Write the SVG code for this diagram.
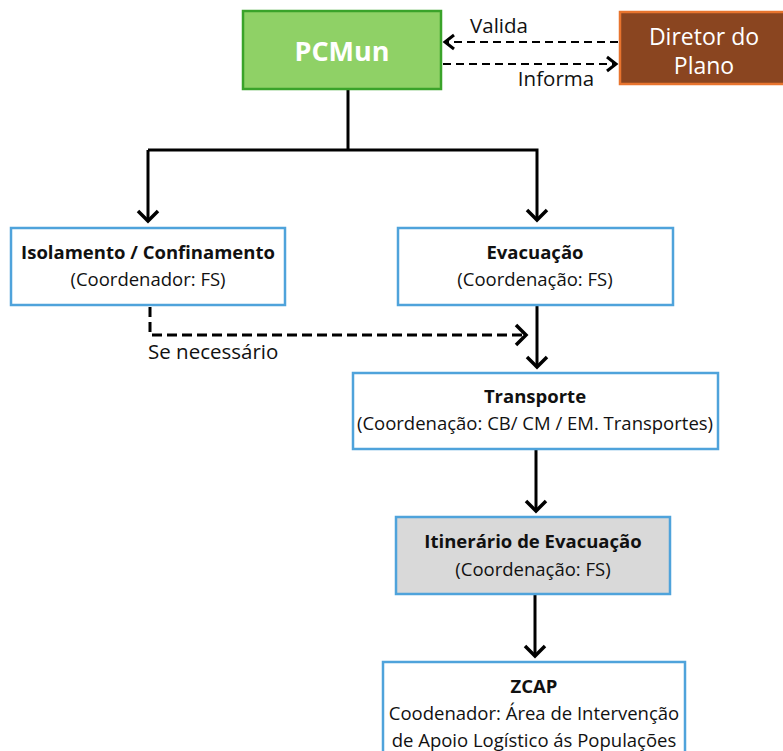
<svg xmlns="http://www.w3.org/2000/svg" width="783" height="751" viewBox="0 0 783 751">
<defs>
<style>
.box{fill:#fff;stroke:#4fa3db;stroke-width:2.5}
.t{font-family:"Open Sans","Liberation Sans",sans-serif;font-size:18.5px;fill:#111;text-anchor:middle}
.b{font-weight:bold}
.lbl{font-size:20.5px}
.ln{fill:none;stroke:#000;stroke-width:3}
.dash{stroke-dasharray:10 5}
.dash2{stroke-dasharray:8 5;stroke-width:2}
</style>
<marker id="ah" markerUnits="userSpaceOnUse" viewBox="-12 -12 24 24" markerWidth="24" markerHeight="24" refX="0" refY="0" orient="auto">
<path d="M-10,-10 L0,0 L-10,10" fill="none" stroke="#000" stroke-width="3.5"/>
</marker>
<marker id="ahs" markerUnits="userSpaceOnUse" viewBox="-12 -12 24 24" markerWidth="24" markerHeight="24" refX="0" refY="0" orient="auto">
<path d="M-9,-7 L0,0 L-9,7" fill="none" stroke="#000" stroke-width="3"/>
</marker>
</defs>
<rect width="783" height="751" fill="#fff"/>
<g id="connectors">
<line class="ln dash2" x1="618" y1="42" x2="445" y2="42" marker-end="url(#ahs)"/>
<line class="ln dash2" x1="443" y1="64" x2="616" y2="64" marker-end="url(#ahs)"/>
<polyline class="ln" points="348,89 348,150"/>
<polyline class="ln" points="148,150 537,150 537,220" marker-end="url(#ah)"/>
<line class="ln" x1="148" y1="150" x2="148" y2="221" marker-end="url(#ah)"/>
<polyline class="ln dash" points="150,307 150,335 526,335" marker-end="url(#ah)"/>
<line class="ln" x1="537" y1="305" x2="537" y2="367" marker-end="url(#ah)"/>
<line class="ln" x1="536" y1="449" x2="536" y2="511" marker-end="url(#ah)"/>
<line class="ln" x1="535" y1="594" x2="535" y2="656" marker-end="url(#ah)"/>
<text class="t lbl" x="499" y="33">Valida</text>
<text class="t lbl" x="556" y="86">Informa</text>
<text class="t lbl" x="148" y="359" style="text-anchor:start">Se necessário</text>
</g>
<g id="pcmun">
<rect x="243" y="11" width="198" height="78" fill="#8fd166" stroke="#3aa32a" stroke-width="2.5"/>
<text class="t b" x="342" y="61" style="font-size:27px;fill:#fff">PCMun</text>
</g>
<g id="diretor">
<rect x="620" y="12" width="165" height="72" fill="#8a4520" stroke="#e8742e" stroke-width="2.5"/>
<text class="t" x="704" y="45" style="font-size:23px;fill:#fff">Diretor do</text>
<text class="t" x="704" y="74" style="font-size:23px;fill:#fff">Plano</text>
</g>
<g id="isolamento">
<rect class="box" x="11" y="228" width="274" height="77"/>
<text class="t b" x="148" y="259">Isolamento / Confinamento</text>
<text class="t" x="148" y="286">(Coordenador: FS)</text>
</g>
<g id="evacuacao">
<rect class="box" x="398" y="228" width="275" height="77"/>
<text class="t b" x="535" y="259">Evacuação</text>
<text class="t" x="535" y="286">(Coordenação: FS)</text>
</g>
<g id="transporte">
<rect class="box" x="353" y="373" width="365" height="76"/>
<text class="t b" x="535" y="403">Transporte</text>
<text class="t" x="535" y="430">(Coordenação: CB/ CM / EM. Transportes)</text>
</g>
<g id="itinerario">
<rect x="396" y="517" width="274" height="77" fill="#d9d9d9" stroke="#4fa3db" stroke-width="2.5"/>
<text class="t b" x="533" y="548">Itinerário de Evacuação</text>
<text class="t" x="533" y="576">(Coordenação: FS)</text>
</g>
<g id="zcap">
<rect class="box" x="383" y="662" width="302" height="95"/>
<text class="t b" x="534" y="693">ZCAP</text>
<text class="t" x="534" y="720">Coodenador: Área de Intervenção</text>
<text class="t" x="534" y="747">de Apoio Logístico ás Populações</text>
</g>
</svg>
